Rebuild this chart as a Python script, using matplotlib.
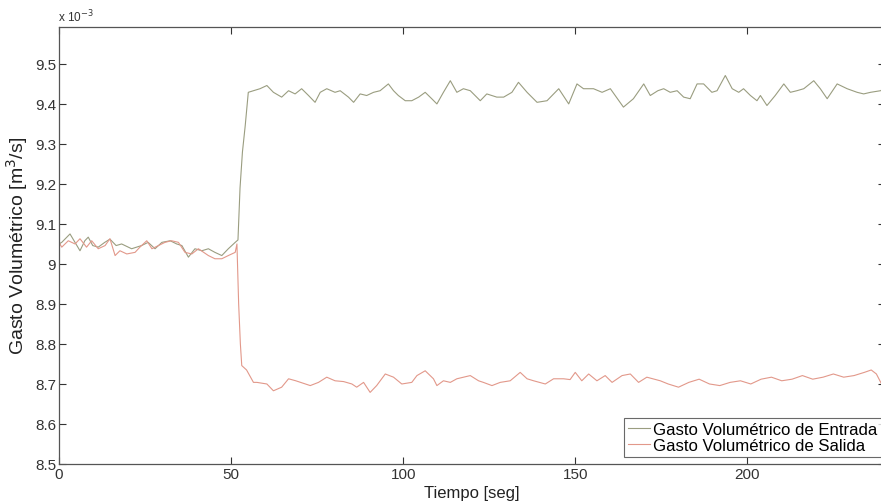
import numpy as np
import matplotlib
matplotlib.use('Agg')
import matplotlib.pyplot as plt

# --- data (caudal x 1e-3 m^3/s vs tiempo s) ---
t_ent = [0.0, 0.8, 3.2, 4.65, 6.1, 7.5, 8.5, 9.8, 11.4, 13.3, 14.8, 16.6, 18.2, 21.1, 24.0,
         25.9, 27.9, 29.9, 32.3, 34.2, 35.7, 37.6, 39.5, 41.5, 43.4, 45.3, 47.3, 49.2, 51.2,
         52.0, 52.6, 53.3, 54.1, 55.0, 56.5, 58.4, 60.4, 62.3, 64.7, 66.7, 68.6, 70.5, 72.5,
         74.4, 75.9, 77.8, 80.2, 81.7, 84.1, 85.6, 87.5, 89.4, 91.4, 93.3, 95.7, 97.2, 98.6,
         100.6, 102.5, 104.5, 106.4, 108.3, 109.8, 111.7, 113.7, 115.6, 117.5, 119.5, 122.4,
         124.3, 127.2, 129.2, 131.6, 133.5, 136.0, 138.9, 141.8, 145.2, 148.1, 150.5, 152.4,
         155.3, 157.8, 160.2, 164.0, 166.9, 169.9, 171.8, 174.0, 175.7, 177.6, 179.6, 181.5,
         183.4, 185.4, 187.3, 189.7, 191.2, 193.6, 195.6, 197.5, 198.9, 200.9, 202.8, 203.8,
         205.7, 208.1, 210.6, 212.5, 214.4, 216.4, 219.3, 221.2, 223.2, 226.1, 229.0, 231.9,
         233.8, 235.8, 238.7, 240.0]
q_ent = [9.050, 9.054, 9.075, 9.054, 9.033, 9.058, 9.067, 9.046, 9.042, 9.054, 9.062, 9.046,
         9.050, 9.038, 9.046, 9.054, 9.038, 9.054, 9.058, 9.050, 9.046, 9.017, 9.038, 9.033,
         9.038, 9.029, 9.021, 9.038, 9.054, 9.060, 9.190, 9.280, 9.345, 9.429, 9.433, 9.438,
         9.446, 9.429, 9.417, 9.433, 9.425, 9.438, 9.421, 9.404, 9.429, 9.438, 9.429, 9.433,
         9.417, 9.404, 9.425, 9.421, 9.429, 9.433, 9.450, 9.433, 9.421, 9.408, 9.408, 9.417,
         9.429, 9.413, 9.400, 9.429, 9.458, 9.429, 9.438, 9.433, 9.408, 9.425, 9.417, 9.417,
         9.429, 9.454, 9.429, 9.404, 9.408, 9.438, 9.400, 9.450, 9.438, 9.438, 9.429, 9.438,
         9.392, 9.413, 9.450, 9.421, 9.433, 9.438, 9.429, 9.433, 9.417, 9.413, 9.450, 9.450,
         9.429, 9.433, 9.471, 9.438, 9.429, 9.438, 9.421, 9.408, 9.421, 9.396, 9.421, 9.450,
         9.429, 9.433, 9.438, 9.458, 9.438, 9.413, 9.450, 9.438, 9.429, 9.425, 9.429, 9.433,
         9.440]

t_sal = [0.0, 0.8, 2.7, 4.65, 6.1, 8.0, 9.5, 11.4, 13.4, 14.8, 16.3, 17.7, 19.7, 22.1, 23.5,
         25.5, 27.0, 28.9, 30.8, 32.7, 34.7, 36.6, 38.6, 40.5, 43.4, 45.3, 47.3, 49.2, 51.2,
         51.7, 52.2, 52.7, 53.1, 54.5, 56.5, 57.5, 60.4, 62.3, 64.7, 66.7, 68.8, 73.0, 75.4,
         77.8, 80.2, 82.7, 85.1, 86.5, 88.5, 90.4, 92.3, 94.8, 97.2, 99.6, 102.5, 104.0, 106.4,
         108.8, 109.8, 111.7, 113.7, 115.6, 119.5, 121.9, 123.3, 125.8, 128.2, 131.1, 134.0,
         136.0, 137.9, 141.3, 143.7, 146.6, 148.5, 150.0, 151.9, 153.9, 156.3, 158.7, 160.7,
         163.6, 166.0, 168.4, 170.8, 174.7, 177.0, 180.0, 183.0, 186.0, 189.0, 192.0, 195.0,
         198.0, 201.0, 204.0, 207.0, 210.0, 213.0, 216.0, 219.0, 222.0, 225.0, 228.0, 231.0,
         234.0, 236.0, 237.5, 239.0, 240.0]
q_sal = [9.054, 9.042, 9.058, 9.050, 9.063, 9.042, 9.058, 9.038, 9.046, 9.063, 9.021, 9.033,
         9.025, 9.029, 9.042, 9.058, 9.038, 9.046, 9.054, 9.058, 9.054, 9.029, 9.025, 9.038,
         9.021, 9.013, 9.013, 9.021, 9.029, 9.050, 8.900, 8.800, 8.746, 8.735, 8.704, 8.704,
         8.700, 8.683, 8.692, 8.713, 8.708, 8.696, 8.704, 8.717, 8.708, 8.706, 8.700, 8.692,
         8.704, 8.679, 8.696, 8.725, 8.717, 8.700, 8.704, 8.721, 8.733, 8.713, 8.696, 8.708,
         8.704, 8.713, 8.721, 8.708, 8.704, 8.696, 8.704, 8.708, 8.729, 8.713, 8.708, 8.700,
         8.713, 8.713, 8.711, 8.729, 8.708, 8.725, 8.708, 8.721, 8.704, 8.721, 8.725, 8.704,
         8.717, 8.708, 8.700, 8.692, 8.704, 8.712, 8.700, 8.696, 8.704, 8.708, 8.700, 8.712,
         8.717, 8.708, 8.712, 8.721, 8.712, 8.717, 8.725, 8.717, 8.721, 8.729, 8.735, 8.725,
         8.700, 8.695]

y_ticks = [8.5, 8.6, 8.7, 8.8, 8.9, 9.0, 9.1, 9.2, 9.3, 9.4, 9.5]
y_labels = ['8.5', '8.6', '8.7', '8.8', '8.9', '9', '9.1', '9.2', '9.3', '9.4', '9.5']
x_ticks = [0, 50, 100, 150, 200]

plt.rcParams['font.family'] = ['Liberation Sans', 'DejaVu Sans']

W, H = 881, 502
fig = plt.figure(figsize=(W / 100, H / 100), dpi=100)
# axes box in pixels: left 59, right ~885 (cropped), top 27.7, bottom 465
ax = fig.add_axes([59 / W, 1 - 465 / H, (885 - 59) / W, (465 - 27.7) / H])

c_ent = '#9a9d80'
c_sal = '#e2988a'
ax.plot(t_ent, q_ent, color=c_ent, lw=0.8, label='Gasto Volumétrico de Entrada')
ax.plot(t_sal, q_sal, color=c_sal, lw=0.8, label='Gasto Volumétrico de Salida')

ax.set_xlim(0, 240)
ax.set_ylim(8.5, 9.593)
ax.set_xticks(x_ticks)
ax.set_xticklabels([str(v) for v in x_ticks])
ax.set_yticks(y_ticks)
ax.set_yticklabels(y_labels)
ax.tick_params(direction='in', top=True, right=True, length=5, width=0.8,
               labelsize=11, colors='#333333', pad=2)
for s in ax.spines.values():
    s.set_color('#555555')
    s.set_linewidth(0.9)

ax.set_xlabel('Tiempo [seg]', fontsize=12, color='#222222', labelpad=3)
ax.set_ylabel('Gasto Volumétrico [m$^3$/s]', fontsize=14, color='#222222', labelpad=4)
fig.text(58 / W, 1 - 17 / H, 'x 10$^{-3}$', fontsize=8.5, color='#333333', va='center')

leg = ax.legend(loc='lower right', bbox_to_anchor=(1.0, 0.008), fontsize=12.1,
                frameon=True, fancybox=False, edgecolor='#444444', borderaxespad=0.2,
                handlelength=1.3, handletextpad=0.2, borderpad=0.25, labelspacing=0.05)
leg.get_frame().set_linewidth(0.8)

fig.savefig('out.png', dpi=100)
